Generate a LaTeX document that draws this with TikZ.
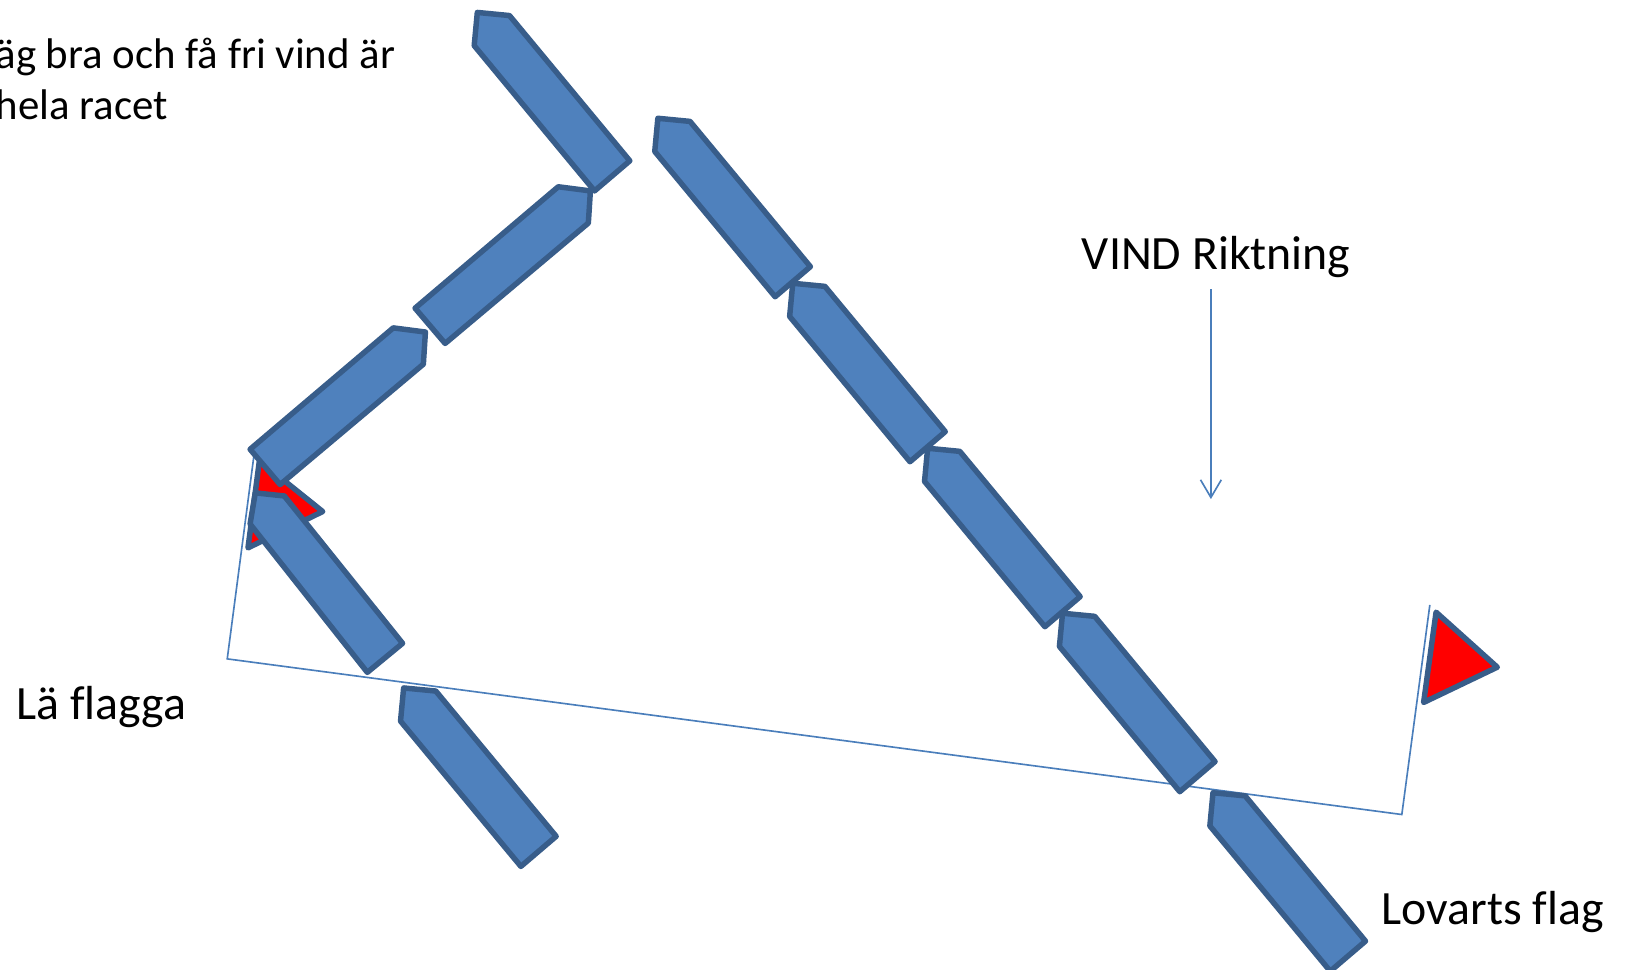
\documentclass[tikz,border=0pt]{standalone}
\usepackage{fontspec}
\setmainfont[RawFeature={-liga}]{Carlito}
\usetikzlibrary{arrows.meta}
\tikzset{boat/.style = {draw = mstroke, fill = mboat, line width = 1.5pt, line join = round}}
\tikzset{flag/.style = {draw = mstroke, fill = mred, line width = 1.5pt, line join = round}}
\tikzset{thin line/.style = {draw = mline, line width = 0.45pt}}
\tikzset{label/.style = {inner sep = 0, anchor = base west, font = \fontsize{13.1pt}{14pt}\selectfont}}
\tikzset{small label/.style = {label, font = \fontsize{11.75pt}{14pt}\selectfont}}
\definecolor{mboat}{rgb}{0.31, 0.506, 0.741}
\definecolor{mstroke}{rgb}{0.22, 0.365, 0.541}
\definecolor{mline}{rgb}{0.29, 0.494, 0.733}
\definecolor{mred}{rgb}{1, 0, 0}

\begin{document}
\begin{tikzpicture}[x = 0.01cm, y = -0.01cm]
      \useasboundingbox (0, 0) rectangle (1568, 934);

      % the line between the flags
      \coordinate (lovartstop) at (1378, 583);
      \coordinate (lovartscorner) at (1351, 785);
      \coordinate (lacorner) at (219, 635);
      \coordinate (latop) at (245, 437);
      \draw [thin line] (lovartstop) -- (lovartscorner) -- (lacorner) -- (latop);

      \draw [flag] (1384, 590) -- (1443, 643) -- (1372, 677) -- cycle;
      \draw [flag] (250, 444) -- (311, 493) -- (239, 528) -- cycle;

      % boats on the same tack
      \foreach \x/\y in {0/0, 174/102, 304/261, 434/420, 564/579, 709/752, -71/651} {
        \draw [boat] (460+\x, 12+\y) -- (491+\x, 15+\y) -- (607+\x, 155+\y) -- (573+\x, 184+\y) -- (457+\x, 44+\y) -- cycle;
      }
      \draw [boat] (246, 475) -- (274, 478) -- (388, 620) -- (354, 648) -- (241, 505) -- cycle;

      % boats on the other tack
      \foreach \x/\y in {0/0, -159/136} {
        \draw [boat] (538+\x, 180+\y) -- (569+\x, 184+\y) -- (567+\x, 215+\y) -- (429+\x, 331+\y) -- (400+\x, 297+\y) -- cycle;
      }

      \node [small label] (text1) at (-5, 66) {äg bra och få fri vind är};
      \node [small label] (text2) at (-5, 115) {hela racet};
      \node [label] (vind) at (1042, 260) {VIND Riktning};
      \node [label] (la) at (15, 693) {Lä flagga};
      \node [label] (lovarts) at (1331, 891) {Lovarts flag};

      \coordinate (windstart) at (1167, 279);
      \coordinate (windend) at (1167, 481);
      \draw [thin line, -{Straight Barb[length = 0.17cm, width = 0.2cm]}] (windstart) -- (windend);
    \end{tikzpicture}
\end{document}
